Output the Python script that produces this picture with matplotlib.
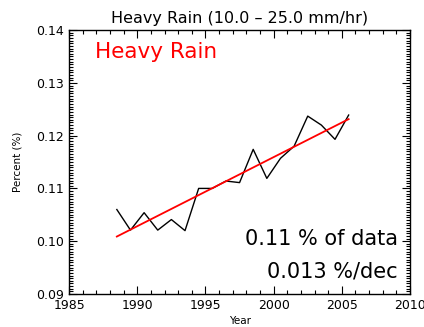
import numpy as np
import matplotlib
matplotlib.use("Agg")
import matplotlib.pyplot as plt
from matplotlib.ticker import MultipleLocator

# yearly values
years = [1988.5, 1989.5, 1990.5, 1991.5, 1992.5, 1993.5, 1994.5, 1995.5, 1996.5,
         1997.5, 1998.5, 1999.5, 2000.5, 2001.5, 2002.5, 2003.5, 2004.5, 2005.5]
percent = [0.1060, 0.1021, 0.1054, 0.1021, 0.1041, 0.1020, 0.1100, 0.1100, 0.1114,
           0.1111, 0.1174, 0.1119, 0.1157, 0.1180, 0.1237, 0.1220, 0.1193, 0.1239]

title = "Heavy Rain (10.0 \u2013 25.0 mm/hr)"
label = "Heavy Rain"
frac_text = "0.11 % of data"
trend_text = "0.013 %/dec"

# linear trend
coef = np.polyfit(years, percent, 1)
trend = np.polyval(coef, years)

fig = plt.figure(figsize=(4.24, 3.27), dpi=100)
ax = fig.add_axes([0.163, 0.101, 0.804, 0.807])

ax.plot(years, percent, color='k', linewidth=1.0)
ax.plot(years, trend, color='r', linewidth=1.3)

ax.set_xlim(1985, 2010)
ax.set_ylim(0.09, 0.14)
ax.xaxis.set_major_locator(MultipleLocator(5))
ax.xaxis.set_minor_locator(MultipleLocator(1))
ax.yaxis.set_major_locator(MultipleLocator(0.01))
ax.yaxis.set_minor_locator(MultipleLocator(0.0005))
ax.set_yticklabels(["%.2f" % v for v in ax.get_yticks()])
ax.tick_params(which='both', direction='in', top=True, right=True, labelsize=9, width=0.8)
ax.tick_params(which='major', length=6)
ax.tick_params(which='minor', length=3)
for s in ax.spines.values():
    s.set_linewidth(1.0)

ax.set_title(title, fontsize=11.5, pad=5)
ax.set_xlabel("Year", fontsize=7.5, labelpad=3)
ax.set_ylabel("Percent (%)", fontsize=7.5, labelpad=10)

ax.text(0.075, 0.955, label, color='r', fontsize=15.5, transform=ax.transAxes, va='top')
ax.text(0.965, 0.21, frac_text, fontsize=15, transform=ax.transAxes, ha='right', va='center')
ax.text(0.965, 0.085, trend_text, fontsize=15, transform=ax.transAxes, ha='right', va='center')

fig.savefig("out.png", dpi=100)
